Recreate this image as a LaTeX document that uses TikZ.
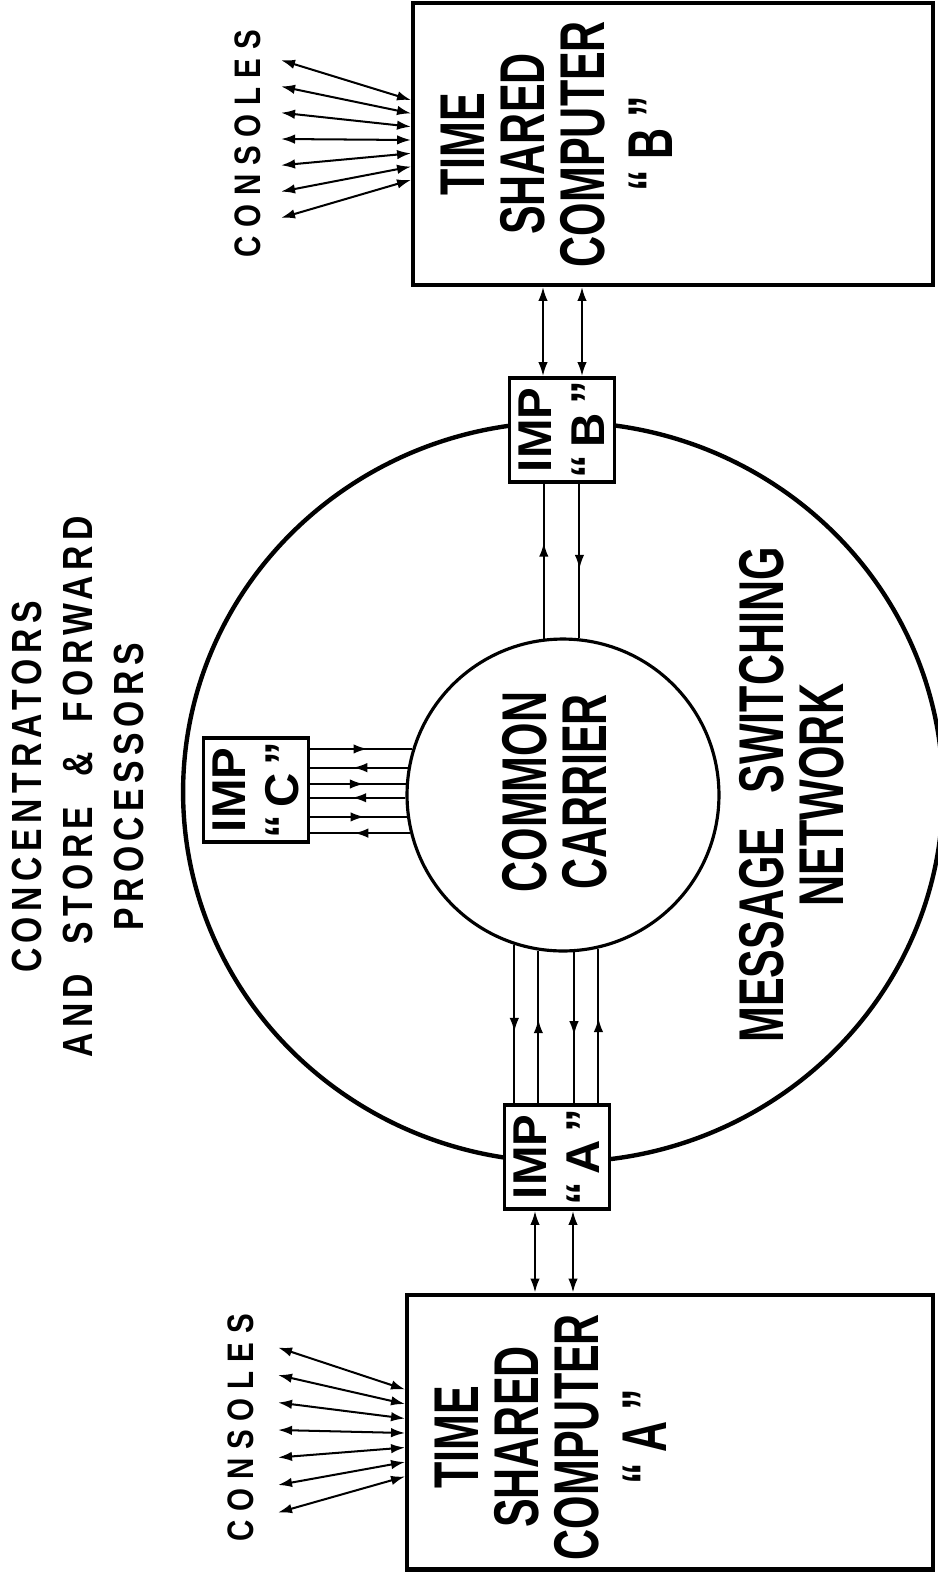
\documentclass[tikz,border=0pt]{standalone}
\usepackage{fontspec}
\usetikzlibrary{positioning, arrows.meta, calc, shapes.geometric, decorations.markings}
\newfontfamily\condfont[FakeStretch=0.68]{Liberation Sans}
\newfontfamily\impfont{Liberation Sans}
\newfontfamily\widefont[FakeStretch=0.8, LetterSpace=13, WordSpace=2.0]{Liberation Sans}
\newfontfamily\consfont[FakeStretch=0.8, LetterSpace=24]{Liberation Sans}

\begin{document}
\begin{tikzpicture}[
  x=0.02cm, y=-0.02cm,
  bigbox/.style={draw, line width=2.3pt, fill=white, inner sep=0pt},
  impbox/.style={draw, line width=2.2pt, fill=white, inner sep=0pt,
    minimum width=2.1cm, minimum height=2.08cm},
  boxtext/.style={rotate=90, align=center, inner sep=0pt,
    font=\condfont\bfseries\fontsize{36}{34}\selectfont},
  imptext/.style={rotate=90, align=center, inner sep=0pt,
    font=\impfont\bfseries\fontsize{27}{30}\selectfont},
  sidetext/.style={rotate=90, align=center, inner sep=0pt,
    font=\widefont\bfseries\fontsize{24}{29}\selectfont},
  consoletext/.style={rotate=90, inner sep=0pt,
    font=\consfont\bfseries\fontsize{21}{21}\selectfont},
  link/.style={line width=1.15pt},
  dbl/.style={link, {Latex[length=0.28cm, width=0.19cm]}-{Latex[length=0.28cm, width=0.19cm]}},
  midarr/.style={link, postaction={decorate}, decoration={markings,
    mark=at position #1 with {\arrow{Latex[length=0.28cm, width=0.19cm]}}}}
]
  \useasboundingbox (0,0) rectangle (937,1593);

  % Message switching network
  \node[draw, ellipse, line width=2.5pt, minimum width=15.2cm, minimum height=14.8cm,
    inner sep=0pt] (msn) at (563,792) {};
  \node[boxtext] (msntext) at ($(msn.center)+(229,3)$) {MESSAGE\hspace{0.35em} SWITCHING\\NETWORK};

  % Common carrier
  \node[draw, circle, line width=1.8pt, minimum size=6.24cm, inner sep=0pt] (carrier) at (563,795) {};
  \node[boxtext] (cctext) at ($(carrier.center)+(-8,-3)$) {COMMON\\CARRIER};

  % Time shared computers
  \node[bigbox, minimum width=10.4cm, minimum height=5.64cm] (boxB) at (673,144) {};
  \node[boxtext] (boxBtext) at ($(boxB.west)+(146,0)$) {TIME\\SHARED\\COMPUTER\\[5pt]“\,B\,”};
  \node[bigbox, minimum width=10.52cm, minimum height=5.5cm] (boxA) at (670,1432) {};
  \node[boxtext] (boxAtext) at ($(boxA.west)+(146,5)$) {TIME\\SHARED\\COMPUTER\\[5pt]“\,A\,”};

  % IMPs
  \node[impbox] (impB) at (562,430) {};
  \node[imptext] (impBtext) at (impB) {IMP\\“\,B\,”};
  \node[impbox] (impA) at (557,1157) {};
  \node[imptext] (impAtext) at (impA) {IMP\\“\,A\,”};
  \node[impbox] (impC) at (256,790) {};
  \node[imptext] (impCtext) at (impC) {IMP\\“\,C\,”};

  % Labels
  \node[sidetext] (procs) at (78,787) {CONCENTRATORS\\AND STORE \& FORWARD\\PROCESSORS};
  \node[consoletext] (consB) at ($(boxB.west)+(-163,0)$) {CONSOLES};
  \node[consoletext] (consA) at ($(boxA.west)+(-164,-4)$) {CONSOLES};

  % Consoles
  \foreach \k in {-3,...,3}{
    \coordinate (conB\k) at ($(boxB.west)+(-130,\k*26.3-5)$);
    \draw[dbl] ($(boxB.west)+(0,\k*13.3-4)$) -- (conB\k);
    \coordinate (conA\k) at ($(boxA.west)+(-127,\k*27.5-2)$);
    \draw[dbl] ($(boxA.west)+(0,\k*14.5+1)$) -- (conA\k);
  }

  % IMPs to computers
  \coordinate (bL) at ($(impB.north)+(-19,0)$);
  \coordinate (bR) at ($(impB.north)+(20,0)$);
  \draw[dbl] (bL) -- (bL |- boxB.south);
  \draw[dbl] (bR) -- (bR |- boxB.south);
  \coordinate (aL) at ($(impA.south)+(-22,0)$);
  \coordinate (aR) at ($(impA.south)+(16,0)$);
  \draw[dbl] (aL) -- (aL |- boxA.north);
  \draw[dbl] (aR) -- (aR |- boxA.north);

  % Carrier to IMPs
  \draw[midarr=0.62] (carrier.97) -- (carrier.97 |- impB.south);
  \draw[midarr=0.55] (carrier.84 |- impB.south) -- (carrier.84);
  \foreach \a in {252,274}
    \draw[midarr=0.55] (carrier.\a) -- (carrier.\a |- impA.north);
  \foreach \a in {261,283}
    \draw[midarr=0.55] (carrier.\a |- impA.north) -- (carrier.\a);
  \foreach \a in {163,176,188}
    \draw[midarr=0.56] (carrier.\a -| impC.east) -- (carrier.\a);
  \foreach \a in {170,181,194}
    \draw[midarr=0.56] (carrier.\a) -- (carrier.\a -| impC.east);
\end{tikzpicture}
\end{document}
